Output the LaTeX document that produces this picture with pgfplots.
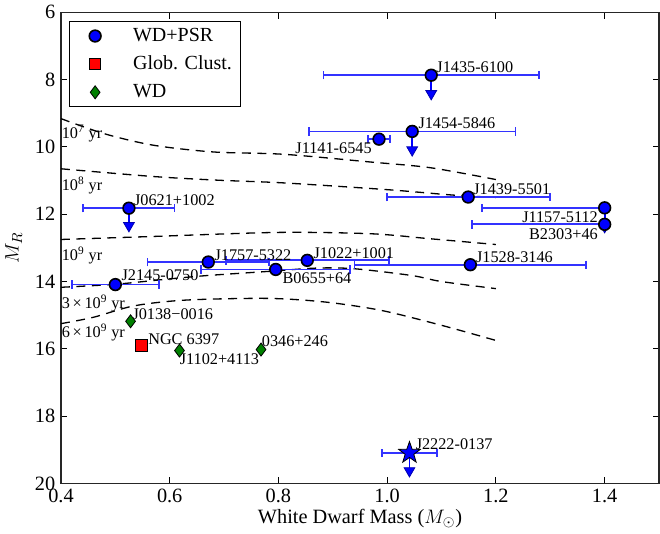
\documentclass[border=0pt]{standalone}
\usepackage{fontspec}
\setmainfont{Liberation Serif}
\usepackage{pgfplots}
\pgfplotsset{compat=1.18}

\definecolor{ptblue}{rgb}{0,0,1}
\definecolor{errblue}{rgb}{0.2,0.2,1}
\definecolor{wdgreen}{rgb}{0,0.5,0}

\newcommand\lab{\fontsize{10}{12}\selectfont}
\newcommand\legf{\fontsize{12.3}{14.5}\selectfont}
\newcommand\tickf{\fontsize{12.5}{14}\selectfont}

% filled five-point star
\pgfdeclareplotmark{fstar}{%
  \pgfpathmoveto{\pgfqpointpolar{90}{\pgfplotmarksize}}%
  \pgfpathlineto{\pgfqpointpolar{126}{0.4\pgfplotmarksize}}%
  \pgfpathlineto{\pgfqpointpolar{162}{\pgfplotmarksize}}%
  \pgfpathlineto{\pgfqpointpolar{198}{0.4\pgfplotmarksize}}%
  \pgfpathlineto{\pgfqpointpolar{234}{\pgfplotmarksize}}%
  \pgfpathlineto{\pgfqpointpolar{270}{0.4\pgfplotmarksize}}%
  \pgfpathlineto{\pgfqpointpolar{306}{\pgfplotmarksize}}%
  \pgfpathlineto{\pgfqpointpolar{342}{0.4\pgfplotmarksize}}%
  \pgfpathlineto{\pgfqpointpolar{18}{\pgfplotmarksize}}%
  \pgfpathlineto{\pgfqpointpolar{54}{0.4\pgfplotmarksize}}%
  \pgfpathclose
  \pgfusepathqfillstroke
}

\pgfplotsset{
  errs/.style={draw=none, mark=none, forget plot,
    error bars/.cd, x dir=both, x explicit,
    error bar style={color=errblue, line width=1.1pt},
    error mark options={rotate=90, color=errblue, line width=1.1pt, mark size=2.6pt}},
  arr/.style={ptblue, line width=1.1pt, forget plot},
  iso/.style={black, line width=0.8pt, dash pattern=on 5.5pt off 4pt, smooth, forget plot},
}

\begin{document}
\begin{tikzpicture}
\begin{axis}[
  scale only axis,
  width=368pt, height=290pt,
  xmin=0.4, xmax=1.5, ymin=6, ymax=20,
  y dir=reverse,
  xtick={0.4,0.6,0.8,1.0,1.2,1.4},
  ytick={6,8,10,12,14,16,18,20},
  xticklabel={\pgfmathprintnumber[fixed,fixed zerofill,precision=1,assume math mode=true]{\tick}},
  yticklabel={\pgfmathprintnumber[assume math mode=true]{\tick}},
  tick align=inside,
  major tick length=4pt,
  tick style={black, line width=0.6pt},
  axis line style={line width=0.9pt, black!85},
  tick label style={font=\tickf},
  xlabel={White Dwarf Mass ($M_\odot$)},
  ylabel={$M_R$},
  every axis x label/.style={at={(axis description cs:0.5,-0.074)}, anchor=center, font=\tickf},
  every axis y label/.style={at={(axis description cs:-0.079,0.5)}, anchor=center, rotate=90, font=\tickf},
  legend style={at={(axis description cs:0.0134,0.981)}, anchor=north west,
    draw=black, line width=0.6pt, font=\legf, cells={anchor=west},
    row sep=3.5pt},
  legend image code/.code={%
    \path[draw=none] (0cm,-0.1cm) rectangle (1.2cm,0.1cm);
    \path[#1, draw=none] plot coordinates {(0.45cm,0cm)};},
  clip=false,
]
% cooling isochrones
\addplot[iso] coordinates {(0.40,9.16) (0.48,9.61) (0.57,9.95) (0.68,10.15) (0.81,10.22) (0.97,10.45) (1.08,10.62) (1.20,10.97)};
\addplot[iso] coordinates {(0.40,10.65) (0.57,10.88) (0.69,10.99) (0.81,11.07) (1.00,11.27) (1.12,11.43) (1.20,11.50)};
\addplot[iso] coordinates {(0.40,12.75) (0.57,12.66) (0.80,12.54) (0.97,12.58) (1.08,12.73) (1.20,12.90)};
\addplot[iso] coordinates {(0.40,14.17) (0.50,14.08) (0.60,13.92) (0.67,13.82) (0.78,13.70) (0.87,13.60) (0.94,13.62) (1.045,13.82) (1.10,14.00) (1.20,14.21)};
\addplot[iso] coordinates {(0.40,15.25) (0.46,15.06) (0.535,14.72) (0.63,14.55) (0.78,14.50) (0.887,14.61) (0.99,14.86) (1.10,15.30) (1.20,15.75)};

% horizontal mass uncertainties
\addplot[errs] coordinates {
  (1.081,7.87) +- (0.198,0)
  (1.046,9.54) +- (0.19,0)
  (0.985,9.77) +- (0.02,0)
  (1.149,11.49) +- (0.15,0)
  (0.525,11.82) +- (0.084,0)
  (0.671,13.42) +- (0.112,0)
  (0.853,13.37) +- (0.15,0)
  (0.795,13.64) +- (0.137,0)
  (1.153,13.50) +- (0.213,0)
  (0.500,14.09) +- (0.08,0)
  (1.041,19.09) +- (0.05,0)
};
\addplot[errs] coordinates {
  (1.40,11.81) -= (0.226,0)
  (1.40,12.30) -= (0.244,0)
};

% upper limits
\addplot[arr] coordinates {(1.081,7.87) (1.081,8.42)};
\addplot[arr] coordinates {(1.046,9.54) (1.046,10.09)};
\addplot[arr] coordinates {(0.525,11.82) (0.525,12.34)};
\addplot[arr] coordinates {(1.40,11.81) (1.40,12.37)};
\addplot[arr] coordinates {(1.041,19.09) (1.041,19.62)};
\addplot[only marks, forget plot, mark=triangle*, mark size=3.8pt,
  mark options={rotate=180, fill=ptblue, draw=ptblue!70!black, line width=0.5pt}]
  coordinates {(1.081,8.42) (1.046,10.09) (0.525,12.34) (1.40,12.37) (1.041,19.62)};

% WD + pulsar systems
\addplot[only marks, mark=*, mark size=3.6pt,
  mark options={fill=ptblue, draw=black, line width=1pt}] coordinates {
  (1.081,7.87) (1.046,9.54) (0.985,9.77) (1.149,11.49) (1.40,11.81) (1.40,12.30)
  (0.525,11.82) (0.671,13.42) (0.853,13.37) (0.795,13.64) (1.153,13.50) (0.500,14.09)
};
\addlegendentry{WD+PSR}
\addplot[only marks, forget plot, mark=fstar, mark size=7pt,
  mark options={fill=ptblue, draw=black, line width=0.5pt}] coordinates {(1.041,19.09)};

\addplot[only marks, mark=square*, mark size=3.5pt,
  mark options={fill=red, draw=black, line width=0.5pt}] coordinates {(0.548,15.90)};
\addlegendentry{Glob. Clust.}

\addplot[only marks, mark=diamond*, mark size=4pt,
  mark options={fill=wdgreen, draw=black, line width=0.5pt}] coordinates {
  (0.528,15.18) (0.618,16.05) (0.768,16.02)
};
\addlegendentry{WD}

% isochrone labels
\node[anchor=west, inner sep=0pt, font=\lab] at (axis cs:0.401,9.61) {10\textsuperscript{7} yr};
\node[anchor=west, inner sep=0pt, font=\lab] at (axis cs:0.401,11.14) {10\textsuperscript{8} yr};
\node[anchor=west, inner sep=0pt, font=\lab] at (axis cs:0.401,13.22) {10\textsuperscript{9} yr};
\node[anchor=west, inner sep=0pt, font=\lab] at (axis cs:0.401,14.66) {3\,×\,10\textsuperscript{9} yr};
\node[anchor=west, inner sep=0pt, font=\lab] at (axis cs:0.401,15.50) {6\,×\,10\textsuperscript{9} yr};

% object labels
\node[anchor=west, inner sep=0pt, font=\lab] at (axis cs:1.090,7.63) {J1435-6100};
\node[anchor=west, inner sep=0pt, font=\lab] at (axis cs:1.057,9.30) {J1454-5846};
\node[anchor=east, inner sep=0pt, font=\lab] at (axis cs:0.972,10.05) {J1141-6545};
\node[anchor=west, inner sep=0pt, font=\lab] at (axis cs:1.158,11.27) {J1439-5501};
\node[anchor=east, inner sep=0pt, font=\lab] at (axis cs:1.388,12.10) {J1157-5112};
\node[anchor=east, inner sep=0pt, font=\lab] at (axis cs:1.388,12.58) {B2303+46};
\node[anchor=west, inner sep=0pt, font=\lab] at (axis cs:1.163,13.27) {J1528-3146};
\node[anchor=west, inner sep=0pt, font=\lab] at (axis cs:0.864,13.16) {J1022+1001};
\node[anchor=west, inner sep=0pt, font=\lab] at (axis cs:0.682,13.22) {J1757-5322};
\node[anchor=west, inner sep=0pt, font=\lab] at (axis cs:0.807,13.89) {B0655+64};
\node[anchor=west, inner sep=0pt, font=\lab] at (axis cs:0.511,13.82) {J2145-0750};
\node[anchor=west, inner sep=0pt, font=\lab] at (axis cs:0.534,11.57) {J0621+1002};
\node[anchor=west, inner sep=0pt, font=\lab] at (axis cs:0.531,14.98) {J0138−0016};
\node[anchor=west, inner sep=0pt, font=\lab] at (axis cs:0.560,15.72) {NGC 6397};
\node[anchor=west, inner sep=0pt, font=\lab] at (axis cs:0.618,16.30) {J1102+4113};
\node[anchor=west, inner sep=0pt, font=\lab] at (axis cs:0.769,15.78) {0346+246};
\node[anchor=west, inner sep=0pt, font=\lab] at (axis cs:1.052,18.84) {J2222-0137};
\end{axis}
\path ([xshift=-37.5pt,yshift=-27.3pt]current axis.south west) rectangle ([xshift=0.6pt,yshift=7.4pt]current axis.north east);
\end{tikzpicture}
\end{document}
